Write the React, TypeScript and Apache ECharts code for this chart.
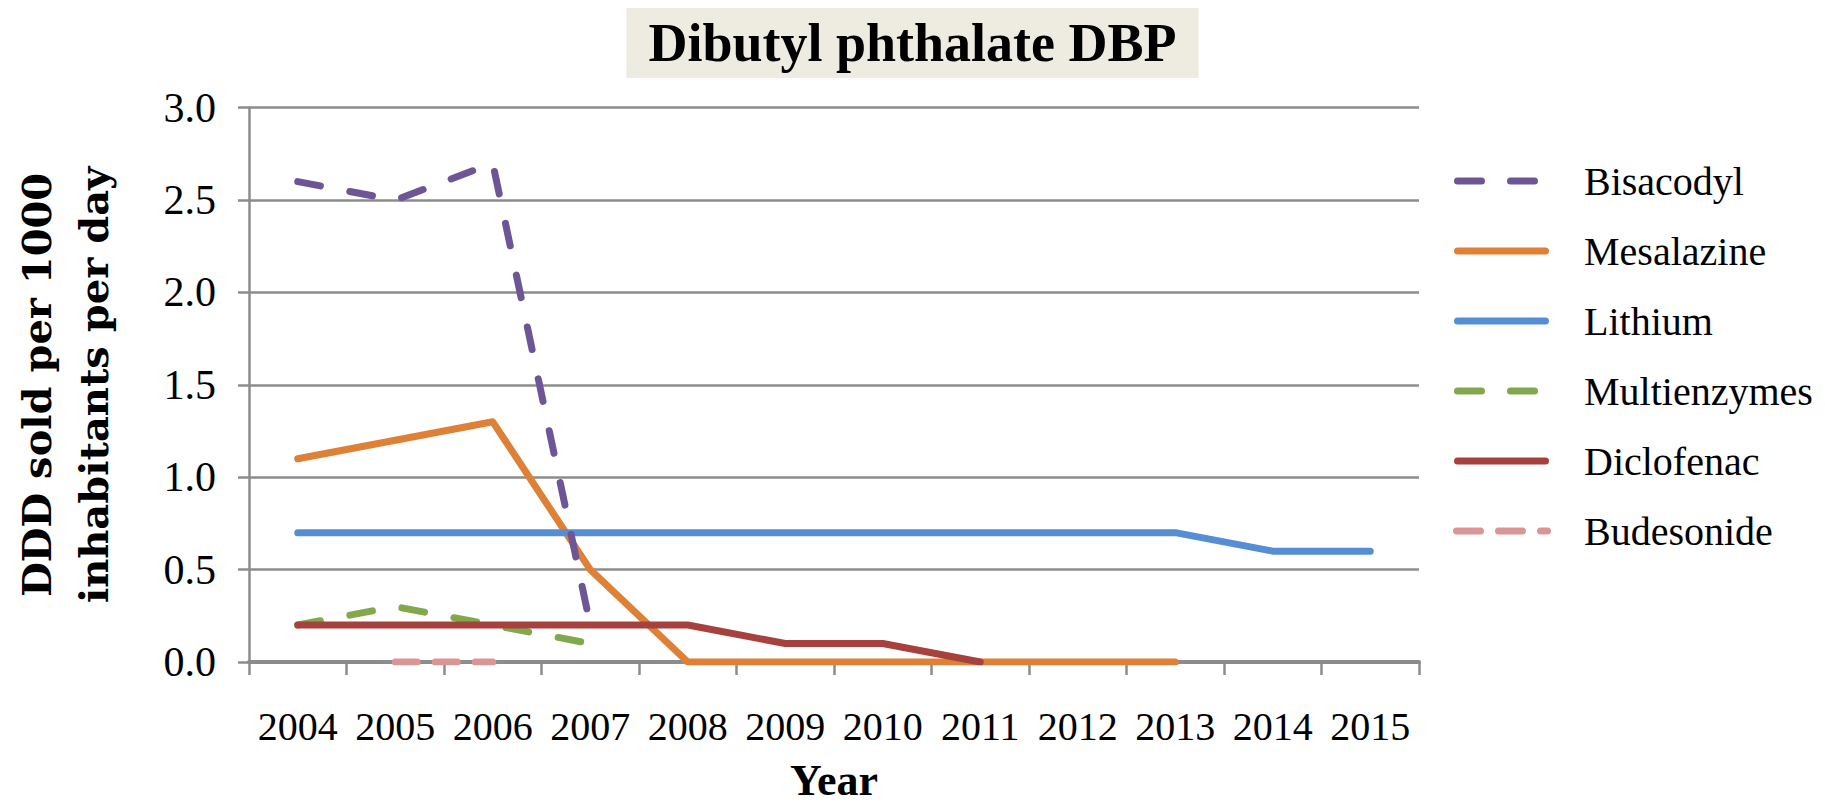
import React, { useEffect, useRef } from "react";
import * as echarts from "echarts";

const years = ["2004", "2005", "2006", "2007", "2008", "2009", "2010", "2011", "2012", "2013", "2014", "2015"];
const bisacodyl = [2.6, 2.5, 2.7, 0.2, null, null, null, null, null, null, null, null];
const mesalazine = [1.1, 1.2, 1.3, 0.5, 0, 0, 0, 0, 0, 0, null, null];
const lithium = [0.7, 0.7, 0.7, 0.7, 0.7, 0.7, 0.7, 0.7, 0.7, 0.7, 0.6, 0.6];
const multienzymes = [0.2, 0.3, 0.2, 0.1, null, null, null, null, null, null, null, null];
const diclofenac = [0.2, 0.2, 0.2, 0.2, 0.2, 0.1, 0.1, 0, null, null, null, null];
const budesonide = [null, 0, 0, null, null, null, null, null, null, null, null, null];

const SERIF = "'Liberation Serif', 'Times New Roman', serif";

// rounded bar segment in a 98 x 7 icon box
const seg = (a: number, b: number) =>
  `M${a + 3.5},0 L${b - 3.5},0 A3.5,3.5 0 0 1 ${b - 3.5},7 L${a + 3.5},7 A3.5,3.5 0 0 1 ${a + 3.5},0 Z `;
const bounds = "M0,0 L0,7 Z M98,0 L98,7 Z ";
const ICON_SOLID = "path://" + bounds + seg(1, 96);
const ICON_DASH = "path://" + bounds + seg(1, 32) + seg(54, 85);
const ICON_DASHDOT = "path://" + bounds + seg(0, 31) + seg(42, 73) + seg(84, 98);

export default function App() {
  const ref = useRef<HTMLDivElement>(null);
  useEffect(() => {
    if (!ref.current) return;
    const chart = echarts.init(ref.current, null, { renderer: "svg" });
    const W = 7;
    const mk = (name: string, data: any[], color: string, type: any, z = 2) => ({
      name,
      type: "line",
      data,
      symbol: "none",
      z,
      connectNulls: false,
      lineStyle: { color, width: W, type, cap: "round", join: "round" },
      itemStyle: { color, borderWidth: 0 },
    });
    chart.setOption({
      animation: false,
      backgroundColor: "#ffffff",
      title: {
        text: "Dibutyl phthalate DBP",
        left: "center",
        top: 8,
        backgroundColor: "#EEEBE0",
        padding: [6, 22, 6, 22],
        textStyle: { fontFamily: SERIF, fontSize: 54, fontWeight: "bold", color: "#000", lineHeight: 58 },
      },
      legend: {
        orient: "vertical",
        left: 1448,
        top: 156,
        itemWidth: 98,
        itemHeight: 14,
        itemGap: 30,
        symbolKeepAspect: true,
        itemStyle: { borderWidth: 0 },
        textStyle: { fontFamily: SERIF, fontSize: 40, color: "#000", lineHeight: 40, padding: [0, 0, 0, 28] },
        data: [
          { name: "Bisacodyl", icon: ICON_DASH },
          { name: "Mesalazine", icon: ICON_SOLID },
          { name: "Lithium", icon: ICON_SOLID },
          { name: "Multienzymes", icon: ICON_DASH },
          { name: "Diclofenac", icon: ICON_SOLID },
          { name: "Budesonide", icon: ICON_DASHDOT },
        ],
      },
      grid: { left: 245.6, right: 406, top: 107.7, bottom: 141.3, containLabel: false },
      xAxis: {
        type: "category",
        data: years,
        boundaryGap: true,
        name: "Year",
        nameLocation: "middle",
        nameGap: 96,
        nameTextStyle: { fontFamily: SERIF, fontSize: 44, fontWeight: "bold", color: "#000" },
        axisLine: { lineStyle: { color: "#8C8C8C", width: 4 } },
        axisTick: { show: true, length: 13, interval: 0, lineStyle: { color: "#8C8C8C", width: 2.5 } },
        axisLabel: { interval: 0, fontFamily: SERIF, fontSize: 40, color: "#000", margin: 44 },
        splitLine: { show: false },
      },
      yAxis: {
        type: "value",
        min: 0,
        max: 3,
        interval: 0.5,
        name: "DDD sold per 1000\ninhabitants per day",
        nameLocation: "middle",
        nameGap: 127,
        nameTextStyle: { fontFamily: "'DejaVu Serif', serif", fontSize: 40, fontWeight: "bold", color: "#000", lineHeight: 57 },
        axisLine: { show: true, lineStyle: { color: "#8C8C8C", width: 2.5 } },
        axisTick: { show: true, length: 11, lineStyle: { color: "#8C8C8C", width: 2.5 } },
        axisLabel: { fontFamily: SERIF, fontSize: 42, color: "#000", margin: 33, formatter: (v: number) => v.toFixed(1) },
        splitLine: { show: true, lineStyle: { color: "#8C8C8C", width: 2.5 } },
      },
      series: [
        mk("Mesalazine", mesalazine, "#DE8035", "solid", 2),
        mk("Lithium", lithium, "#558ED5", "solid", 2),
        mk("Diclofenac", diclofenac, "#A6413E", "solid", 3),
        mk("Multienzymes", multienzymes, "#82A84C", [23, 30], 2),
        mk("Bisacodyl", bisacodyl, "#6E5596", [23, 30], 4),
        mk("Budesonide", budesonide, "#DA9694", [22, 18], 2),
      ],
    });
    return () => chart.dispose();
  }, []);
  return <div ref={ref} style={{ width: 1825, height: 807, margin: -8 }} />;
}
